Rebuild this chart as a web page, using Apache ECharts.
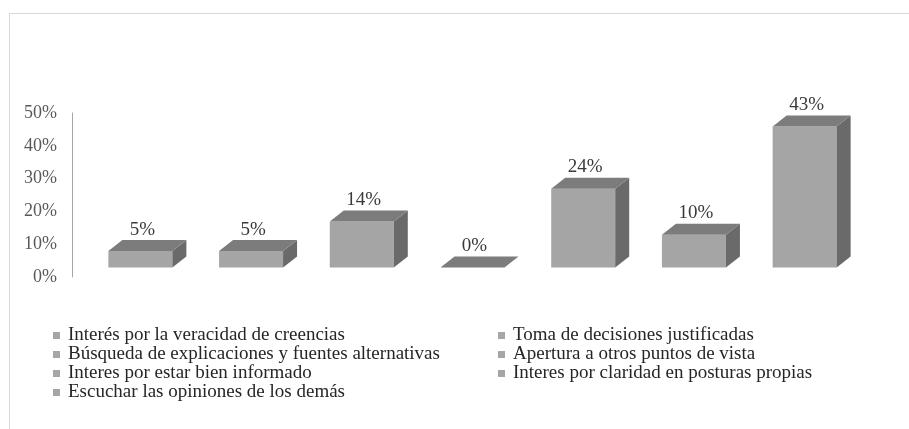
<!DOCTYPE html>
<html>
<head>
<meta charset="utf-8">
<script src="https://cdn.jsdelivr.net/npm/echarts@6/dist/echarts.min.js"></script>
<style>html,body{margin:0;padding:0;background:#fff}#c{width:909px;height:429px}</style>
</head>
<body>
<div id="c"></div>
<script>
const categories = [
  "Interés por la veracidad de creencias",
  "Toma de decisiones justificadas",
  "Búsqueda de explicaciones y fuentes alternativas",
  "Apertura a otros puntos de vista",
  "Interes por estar bien informado",
  "Interes por claridad en posturas propias",
  "Escuchar las opiniones de los demás"
];
const values = [0.05, 0.05, 0.14, 0.00, 0.24, 0.10, 0.43];
const valueLabels = ["5%", "5%", "14%", "0%", "24%", "10%", "43%"];
const yTicks = [0, 0.1, 0.2, 0.3, 0.4, 0.5];

const FONT = '"Liberation Serif", "Times New Roman", serif';
const W = 64, DX = 14, DY = -11, SH = -9.5;

function renderItem(params, api) {
  const idx = api.value(0);
  const base = api.coord([idx, 0]);
  const top = api.coord([idx, api.value(1)]);
  const x0 = base[0] - W / 2, x1 = base[0] + W / 2;
  const yb = base[1] + SH, yt = top[1] + SH;
  const children = [];
  if (yb - yt > 0.1) {
    children.push({type: 'rect', shape: {x: x0, y: yt, width: W, height: yb - yt},
      style: {fill: '#A5A5A5'}});
    children.push({type: 'polygon', shape: {points: [[x1, yt], [x1 + DX, yt + DY], [x1 + DX, yb + DY], [x1, yb]]},
      style: {fill: '#6A6A6A'}});
  }
  children.push({type: 'polygon', shape: {points: [[x0, yt], [x1, yt], [x1 + DX, yt + DY], [x0 + DX, yt + DY]]},
    style: {fill: '#7C7C7C'}});
  children.push({type: 'text', x: base[0] + 2, y: yt + DY - 1,
    style: {text: valueLabels[idx], font: '19px ' + FONT, fill: '#3A3A3A', align: 'center', verticalAlign: 'bottom'}});
  return {type: 'group', children};
}

const series = categories.map((name, i) => ({
  type: 'custom',
  name: name,
  renderItem: renderItem,
  itemStyle: {color: '#A6A6A6'},
  data: [[i, values[i]]],
  encode: {x: 0, y: 1},
  clip: false
}));

const legendCommon = {
  orient: 'vertical', icon: 'rect', itemWidth: 7, itemHeight: 7, itemGap: 0, padding: 0,
  textStyle: {fontFamily: FONT, fontSize: 19, color: '#262626', lineHeight: 18, padding: [0, 0, 0, 3]},
  selectedMode: false
};

const chart = echarts.init(document.getElementById('c'), null, {renderer: 'canvas'});
chart.setOption({
  animation: false,
  backgroundColor: '#fff',
  grid: {left: 85, right: 49, top: 113, bottom: 152, containLabel: false},
  xAxis: {type: 'category', data: categories, show: false},
  yAxis: {
    type: 'value', min: 0, max: 0.5, interval: 0.1, offset: 13,
    axisLine: {show: true, lineStyle: {color: '#A6A6A6', width: 1}},
    axisTick: {show: false},
    splitLine: {show: false},
    axisLabel: {margin: 15, fontFamily: FONT, fontSize: 18, color: '#595959',
      formatter: v => Math.round(v * 100) + '%'}
  },
  legend: [
    Object.assign({}, legendCommon, {left: 53, top: 326, data: [categories[0], categories[2], categories[4], categories[6]]}),
    Object.assign({}, legendCommon, {left: 498, top: 326, data: [categories[1], categories[3], categories[5]]})
  ],
  graphic: [
    {type: 'line', shape: {x1: 9, y1: 13.5, x2: 909, y2: 13.5}, style: {stroke: '#D9D9D9', lineWidth: 1}},
    {type: 'line', shape: {x1: 9.5, y1: 13, x2: 9.5, y2: 429}, style: {stroke: '#D9D9D9', lineWidth: 1}}
  ],
  series: series
});
</script>
</body>
</html>
